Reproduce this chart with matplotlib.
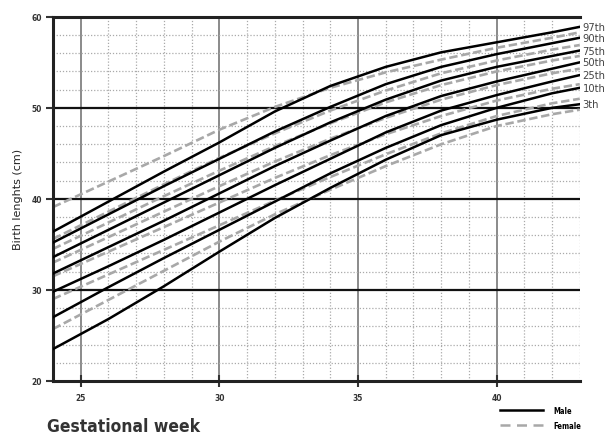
import numpy as np
import matplotlib
matplotlib.use("Agg")
import matplotlib.pyplot as plt
from matplotlib.lines import Line2D

weeks = [24, 26, 28, 30, 32, 34, 36, 38, 40, 42, 43]
pct_labels = ["97th", "90th", "75th", "50th", "25th", "10th", "3th"]

male = {
    "97th": [36.4, 39.7, 43.0, 46.2, 49.6, 52.4, 54.5, 56.1, 57.2, 58.3, 58.9],
    "90th": [35.2, 38.3, 41.4, 44.4, 47.4, 50.1, 52.6, 54.5, 55.9, 57.1, 57.7],
    "75th": [33.6, 36.6, 39.6, 42.6, 45.6, 48.4, 50.9, 53.0, 54.5, 55.7, 56.3],
    "50th": [31.8, 34.7, 37.6, 40.6, 43.6, 46.4, 49.1, 51.3, 52.9, 54.3, 55.0],
    "25th": [29.8, 32.6, 35.5, 38.5, 41.5, 44.4, 47.3, 49.7, 51.4, 52.9, 53.6],
    "10th": [27.0, 30.3, 33.5, 36.6, 39.7, 42.8, 45.6, 48.1, 50.0, 51.6, 52.2],
    "3th":  [23.5, 26.8, 30.4, 34.2, 37.9, 41.2, 44.3, 47.0, 48.7, 50.0, 50.4],
}
female = {
    "97th": [39.1, 41.9, 44.7, 47.6, 50.1, 52.2, 53.9, 55.3, 56.6, 57.7, 58.3],
    "90th": [35.6, 38.6, 41.6, 44.5, 47.2, 49.7, 51.9, 53.8, 55.2, 56.4, 56.9],
    "75th": [34.5, 37.4, 40.3, 43.1, 45.8, 48.3, 50.6, 52.5, 54.0, 55.2, 55.7],
    "50th": [33.0, 35.8, 38.6, 41.4, 44.1, 46.6, 48.9, 50.9, 52.5, 53.8, 54.3],
    "25th": [31.5, 34.2, 36.9, 39.6, 42.3, 44.8, 47.1, 49.1, 50.8, 52.1, 52.6],
    "10th": [29.0, 31.7, 34.4, 37.1, 39.8, 42.4, 44.9, 47.2, 49.1, 50.5, 51.0],
    "3th":  [25.7, 28.9, 32.1, 35.3, 38.3, 41.0, 43.6, 46.0, 48.0, 49.3, 49.8],
}

narrow = ["Liberation Sans Narrow", "DejaVu Sans"]
dash = (0, (3.2, 1.4))

fig = plt.figure(figsize=(6.09, 4.35), dpi=100)
ax = fig.add_axes([0.087, 0.122, 0.865, 0.837])

# grid: dotted minor lines, solid major lines
for w in range(24, 44):
    if w % 5 == 0:
        ax.axvline(w, color="#777777", lw=1.2, zorder=1)
    else:
        ax.axvline(w, color="#aaaaaa", lw=0.9, ls=(0, (1, 1.5)), zorder=1)
for v in range(22, 60, 2):
    if v % 10 != 0:
        ax.axhline(v, color="#aaaaaa", lw=0.9, ls=(0, (1, 1.5)), zorder=1)
for v in [30, 40, 50]:
    ax.axhline(v, color="#111111", lw=1.6, zorder=1)
ax.axhline(60, color="#222222", lw=2.2, zorder=1, clip_on=False)

for p in pct_labels:
    ax.plot(weeks, female[p], color="#a8a8a8", lw=1.9, ls=dash, zorder=2)
for p in pct_labels:
    ax.plot(weeks, male[p], color="#000000", lw=1.8, zorder=3)
    ax.annotate(p, xy=(weeks[-1], male[p][-1]), xytext=(2, 0), textcoords="offset points",
                va="center", ha="left", fontsize=8, color="#444444", family=narrow,
                fontstretch="condensed", annotation_clip=False)

ax.set_xlim(24, 43)
ax.set_ylim(20, 60)
ax.set_xticks([25, 30, 35, 40])
ax.set_yticks([20, 30, 40, 50, 60])
ax.tick_params(axis="x", direction="inout", length=9, width=1.5, labelsize=6, pad=4, colors="#333333")
ax.tick_params(axis="y", direction="out", length=5, width=1.5, labelsize=6, pad=3, colors="#333333")
for lab in ax.get_xticklabels() + ax.get_yticklabels():
    lab.set_fontweight("bold")
    lab.set_family(narrow)
    lab.set_fontstretch("condensed")

for s in ["top", "right"]:
    ax.spines[s].set_visible(False)
ax.spines["left"].set_linewidth(2.2)
ax.spines["bottom"].set_linewidth(2.2)
ax.spines["left"].set_color("#222222")
ax.spines["bottom"].set_color("#222222")

ax.set_ylabel("Birth lenghts (cm)", fontsize=8, color="#222222", labelpad=6)

fig.text(0.077, 0.008, "Gestational week", fontsize=12.5, fontweight="bold",
         family=narrow, fontstretch="condensed", color="#333333")

handles = [Line2D([], [], color="black", lw=1.8),
           Line2D([], [], color="#a8a8a8", lw=1.8, ls=(0, (4, 2.6)))]
leg = fig.legend(handles, ["Male", "Female"], loc="lower left", bbox_to_anchor=(0.81, -0.006),
                 frameon=False, handlelength=5.6, labelspacing=0.75, handletextpad=1.4,
                 prop={"family": narrow, "weight": "bold", "size": 5.5, "stretch": "condensed"})

fig.savefig("out.png", dpi=100)
